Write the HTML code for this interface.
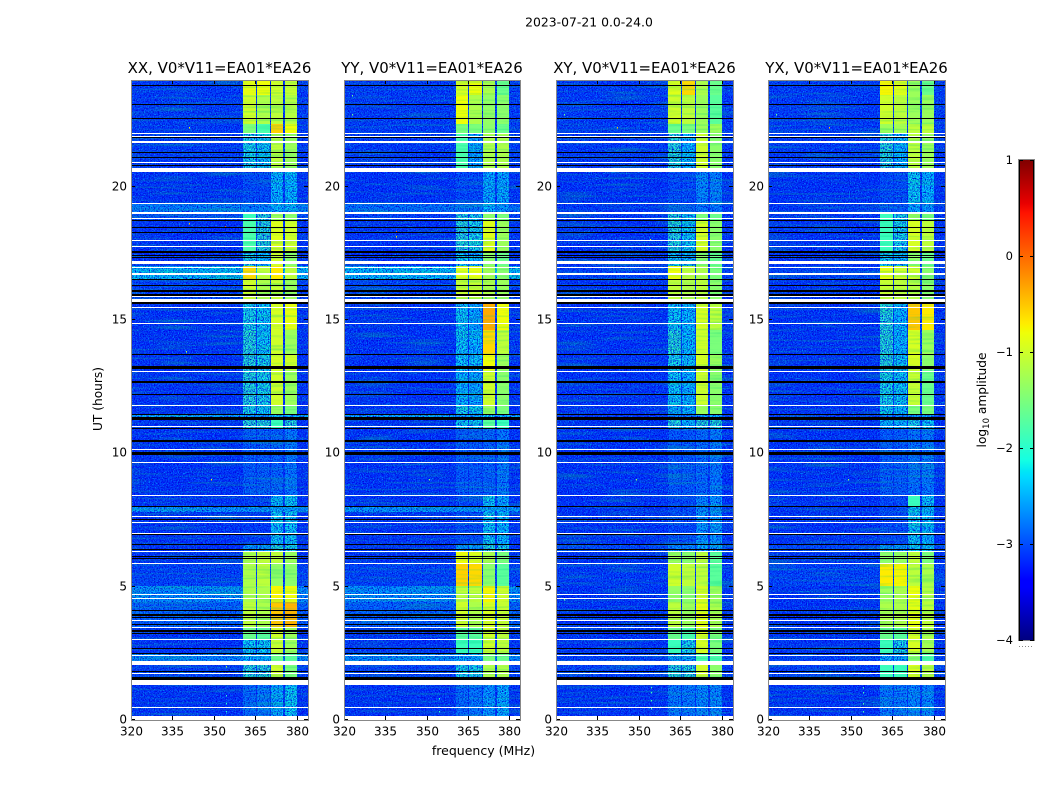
<!DOCTYPE html>
<html lang="en">
<head>
<meta charset="utf-8">
<title>2023-07-21 0.0-24.0</title>
<style>
html,body{margin:0;padding:0;background:#fff;width:1050px;height:800px;overflow:hidden}
svg{display:block}
text{font-family:"DejaVu Sans","Liberation Sans",sans-serif;fill:#000}
</style>
</head>
<body>
<svg id="chart" xmlns="http://www.w3.org/2000/svg" width="1050" height="800" viewBox="0 0 1050 800">
<defs>
<filter id="speckle-light" filterUnits="userSpaceOnUse" x="0" y="0" width="1050" height="800" color-interpolation-filters="sRGB">
<feTurbulence type="fractalNoise" baseFrequency="0.83" numOctaves="2" seed="3"/>
<feColorMatrix type="matrix" values="0 0 0 0 0  0 0 0 0 0.55  0 0 0 0 1  4 0 0 0 -1.9"/>
</filter>
<filter id="speckle-dark" filterUnits="userSpaceOnUse" x="0" y="0" width="1050" height="800" color-interpolation-filters="sRGB">
<feTurbulence type="fractalNoise" baseFrequency="0.79" numOctaves="2" seed="11"/>
<feColorMatrix type="matrix" values="0 0 0 0 0  0 0 0 0 0  0 0 0 0 0.85  0 3.4 0 0 -1.5"/>
</filter>
<filter id="streaks" filterUnits="userSpaceOnUse" x="0" y="0" width="1050" height="800" color-interpolation-filters="sRGB">
<feTurbulence type="fractalNoise" baseFrequency="0.02 0.45" numOctaves="1" seed="5"/>
<feColorMatrix type="matrix" values="0 0 0 0 0  0 0 0 0 0.8  0 0 0 0 0.5  2.0 0 0 0 -0.95"/>
</filter>
</defs>
</svg>
<script>
// ---- chart data ----
const panelNames = ['XX', 'YY', 'XY', 'YX'];
const panelTitles = ['XX, V0*V11=EA01*EA26', 'YY, V0*V11=EA01*EA26', 'XY, V0*V11=EA01*EA26', 'YX, V0*V11=EA01*EA26'];
const freqTicks = [320, 335, 350, 365, 380];
const timeTicks = [0, 5, 10, 15, 20];
const colorTicks = [1, 0, -1, -2, -3, -4];
const bandEdges = [[360.6, 365.1], [365.6, 370.2], [370.7, 374.9], [375.7, 379.9]];
// start hour of each time segment (segment ends at the next start; last ends at 24)
const segmentStarts = [0, 1.55, 2.16, 2.45, 3.0, 3.45, 4.4, 5.0, 5.8, 6.3, 6.55, 7.75, 7.95, 8.38, 10.9, 11.3, 11.45, 11.75, 13.1, 13.7, 14.6, 15.6, 16.5, 17.0, 17.5, 18.7, 19.0, 19.35, 20.65, 21.95, 22.3, 23.4];
// log10 amplitude per segment: background, band 1..4
const levelsXX = [
[-3.15,-2.8,-2.7,-2.4,-2.2],[-3.05,-2.0,-2.0,-1.0,-1.5],[-2.6,-2.3,-2.3,-1.6,-1.7],[-3.15,-2.2,-2.2,-1.05,-1.3],
[-3.15,-1.6,-1.7,-1.0,-1.3],[-2.85,-1.1,-1.2,-0.5,-0.4],[-2.55,-1.2,-1.2,-0.75,-0.8],[-3.05,-1.2,-1.1,-1.35,-1.4],
[-3.15,-1.2,-1.1,-1.1,-1.3],[-3.15,-2.5,-2.5,-2.0,-2.1],[-3.15,-3.1,-3.1,-2.2,-2.2],[-2.5,-2.5,-2.5,-2.4,-2.4],
[-3.15,-3.1,-3.1,-2.3,-2.2],[-3.15,-2.9,-2.9,-2.85,-2.7],[-3.15,-2.0,-2.0,-1.9,-2.0],[-2.4,-2.4,-2.4,-2.2,-2.3],
[-3.15,-2.1,-2.2,-1.3,-1.5],[-3.15,-2.0,-2.1,-1.0,-1.3],[-3.15,-2.0,-2.1,-0.95,-1.0],[-3.15,-2.0,-2.2,-1.0,-1.3],
[-3.15,-2.1,-2.2,-0.95,-0.85],[-3.05,-1.0,-1.2,-1.05,-1.3],[-2.25,-0.6,-1.1,-0.7,-1.1],[-3.15,-2.1,-2.3,-1.0,-1.4],
[-3.15,-1.8,-2.0,-0.9,-1.0],[-2.95,-1.9,-2.0,-1.3,-1.4],[-2.65,-2.65,-2.6,-2.3,-2.3],[-3.15,-3.0,-3.0,-2.3,-2.3],
[-3.1,-2.1,-2.2,-1.1,-1.3],[-3.1,-1.5,-1.8,-0.55,-0.8],[-3.1,-1.0,-1.2,-1.1,-1.15],[-3.1,-0.85,-0.8,-1.0,-1.05]];
const levelsYY = [
[-3.15,-2.8,-2.7,-2.5,-2.4],[-3.05,-2.1,-2.1,-1.2,-1.2],[-2.6,-2.4,-2.4,-1.5,-1.6],[-3.15,-1.9,-1.9,-1.0,-1.1],
[-3.15,-1.7,-1.7,-1.0,-1.1],[-2.85,-1.0,-1.2,-0.95,-1.05],[-2.55,-1.1,-1.1,-0.75,-1.0],[-3.05,-0.55,-0.6,-1.4,-1.7],
[-3.15,-0.8,-0.9,-1.2,-1.5],[-3.15,-2.5,-2.5,-2.0,-2.1],[-3.15,-3.0,-3.0,-2.2,-2.3],[-2.5,-2.5,-2.5,-2.4,-2.4],
[-3.15,-3.0,-3.0,-2.2,-2.4],[-3.15,-2.9,-2.9,-2.85,-2.7],[-3.15,-2.2,-2.2,-1.7,-1.9],[-2.4,-2.4,-2.4,-2.2,-2.3],
[-3.15,-2.1,-2.2,-1.3,-1.5],[-3.15,-2.3,-2.4,-1.0,-1.4],[-3.15,-2.2,-2.2,-0.8,-1.3],[-3.15,-2.2,-2.3,-0.6,-1.1],
[-3.15,-2.2,-2.4,-0.35,-0.8],[-3.05,-1.05,-1.05,-1.2,-1.3],[-2.25,-0.9,-0.85,-1.25,-1.4],[-3.15,-2.2,-2.3,-1.4,-1.6],
[-3.15,-2.0,-2.1,-0.9,-1.3],[-3.05,-2.0,-2.1,-1.4,-1.5],[-2.75,-2.7,-2.7,-2.3,-2.5],[-3.15,-3.0,-3.0,-2.4,-2.4],
[-3.1,-1.8,-2.4,-1.2,-1.2],[-3.1,-1.5,-1.5,-1.4,-1.6],[-3.1,-0.8,-1.2,-1.35,-1.4],[-3.1,-0.95,-0.8,-1.2,-1.6]];
const levelsXY = [
[-3.15,-2.7,-2.7,-2.6,-2.6],[-3.05,-2.0,-2.0,-1.0,-1.4],[-3.05,-2.5,-2.5,-1.8,-1.8],[-3.15,-1.9,-2.1,-0.95,-1.5],
[-3.15,-1.6,-1.8,-0.95,-1.5],[-3.15,-1.1,-1.3,-0.85,-1.2],[-3.15,-1.35,-1.4,-0.95,-1.3],[-3.1,-1.0,-1.1,-1.1,-1.7],
[-3.15,-1.3,-1.4,-1.1,-1.7],[-3.0,-2.6,-2.6,-2.3,-2.4],[-3.15,-3.0,-3.0,-2.5,-2.5],[-3.15,-3.0,-3.0,-2.6,-2.6],
[-3.15,-3.0,-3.0,-2.6,-2.5],[-3.15,-2.9,-2.9,-2.8,-2.7],[-3.15,-2.0,-2.3,-2.0,-2.0],[-3.05,-2.6,-2.6,-2.4,-2.4],
[-3.15,-2.4,-2.3,-1.3,-1.4],[-3.15,-2.2,-2.3,-1.0,-1.4],[-3.15,-2.1,-2.2,-0.95,-1.3],[-3.15,-2.0,-2.3,-1.0,-1.5],
[-3.15,-2.2,-2.3,-0.95,-1.1],[-3.15,-1.1,-1.2,-1.1,-1.4],[-3.05,-0.8,-1.1,-1.2,-1.5],[-3.15,-2.2,-2.3,-1.4,-1.6],
[-3.15,-2.0,-2.2,-0.95,-1.4],[-3.1,-2.0,-2.2,-1.5,-1.6],[-3.1,-2.9,-2.9,-2.7,-2.7],[-3.15,-3.0,-3.0,-2.6,-2.65],
[-3.1,-2.0,-2.3,-1.0,-1.4],[-3.1,-1.6,-1.5,-1.3,-1.3],[-3.1,-1.0,-1.1,-1.3,-1.7],[-3.1,-0.9,-0.6,-1.2,-1.6]];
const levelsYX = [
[-3.15,-2.7,-2.7,-2.6,-2.6],[-3.05,-1.9,-1.9,-0.9,-1.1],[-3.05,-2.4,-2.4,-1.4,-1.8],[-3.15,-1.9,-2.1,-0.95,-1.25],
[-3.15,-1.6,-1.7,-0.95,-1.2],[-3.15,-1.2,-1.2,-0.85,-1.1],[-3.15,-1.3,-1.2,-0.8,-1.15],[-3.05,-0.7,-0.75,-1.1,-1.2],
[-3.15,-1.4,-1.35,-1.1,-1.5],[-3.0,-2.5,-2.5,-2.2,-2.2],[-3.15,-3.0,-3.0,-2.2,-2.3],[-3.15,-3.0,-3.0,-2.2,-2.3],
[-3.15,-3.0,-3.0,-1.9,-2.2],[-3.15,-2.9,-2.9,-2.75,-2.7],[-3.15,-2.3,-2.3,-2.1,-2.2],[-3.05,-2.6,-2.6,-2.4,-2.4],
[-3.15,-2.2,-2.3,-1.5,-1.5],[-3.15,-2.1,-2.2,-1.05,-1.6],[-3.15,-2.0,-2.2,-0.95,-1.4],[-3.15,-2.0,-2.3,-0.95,-1.3],
[-3.15,-2.0,-2.3,-0.5,-0.7],[-3.15,-1.05,-1.1,-1.15,-1.4],[-3.05,-0.85,-1.0,-1.0,-1.4],[-3.15,-2.2,-2.3,-1.4,-1.6],
[-3.15,-1.9,-2.1,-0.95,-1.1],[-3.1,-1.9,-2.1,-1.3,-1.5],[-3.1,-2.9,-2.9,-2.4,-2.5],[-3.15,-3.0,-3.0,-2.2,-2.3],
[-3.1,-2.0,-2.3,-1.1,-1.3],[-3.1,-1.3,-1.25,-1.1,-1.1],[-3.1,-1.0,-1.1,-1.3,-1.3],[-3.1,-0.75,-0.9,-1.3,-1.6]];
const panelLevels = [levelsXX, levelsYY, levelsXY, levelsYX];
// flagged (missing) rows, hours
const whiteLines = [0.435,1.71,2.39,2.99,3.44,3.70,4.535,4.67,5.835,6.285,6.955,7.37,7.6,8.385,9.62,10.09,10.96,11.74,13.03,14.83,15.44,15.83,16.94,17.1,17.17,17.71,17.94,18.76,19.33,20.87,21.63,21.66,21.83,21.95];
const whiteBands = [[-0.05,0.11],[1.29,1.46],[2.02,2.16],[15.63,15.75],[16.64,16.73],[18.93,19.03],[20.5,20.65]];
// zero-amplitude rows, hours
const blackLines = [1.77,2.44,2.65,3.22,3.3,3.53,3.82,3.9,4.085,6.03,6.11,6.36,6.56,6.92,7.48,7.965,10.9,11.42,11.77,12.18,13.16,13.2,13.66,15.6,15.9,16.05,16.27,16.49,17.29,17.39,18.24,18.43,18.68,20.76,21.05,21.26,22.51,23.04,23.76];
const blackBands = [[1.46,1.56],[9.91,10.0],[10.4,10.48],[11.23,11.31],[12.6,12.68],[17.46,17.54],[21.77,21.83]];
// isolated interference points: frequency, hour, log10 amplitude
const pointsXX = [[354.5,0.3,-2],[354.5,0.6,-2],[354.5,0.9,-2],[354.5,2.0,-1.3],[340,13.8,-1.2],[354,19.0,-1],[354,18.5,0],[341,18.6,-0.4],[341,22.2,-0.8],[349,9.0,-0.8]];
const pointsYY = [[354.5,0.3,-2],[354.5,0.8,-2],[351,9.0,-1.6],[339,18.1,-0.6],[339,18.3,0],[323,22.7,-1.6],[323,23.4,-1.6]];
const pointsXY = [[354.5,0.4,-1.8],[354.5,0.7,-1.8],[354.5,1.0,-1.8],[354.5,1.2,-1.8],[342,22.2,-0.5],[354,18.0,-0.9],[349,9.0,-1.4],[323,4.5,-1.6],[323,22.7,-1.6]];
const pointsYX = [[354.5,0.3,-1.8],[354.5,0.6,-1.8],[354.5,1.0,-1.8],[354.5,1.2,-1.8],[342,22.2,-0.5],[354,18.0,-0.9],[349,9.0,-1.4],[323,22.7,-1.6]];
const panelPoints = [pointsXX, pointsYY, pointsXY, pointsYX];
const figureTitle = '2023-07-21 0.0-24.0';

// ---- layout and scales ----
const panelLeft = [131, 344, 556, 768];
const panelWidth = [177, 176, 177, 177];
const plotTop = 79, plotBottom = 719, frameTop = 80, frameBottom = 720;
const freqMin = 320, freqMax = 384, timeMax = 24;
const barX = 1019, barW = 15, barTop = 160, barBottom = 640, ampMin = -4, ampMax = 1;
const xOf = (f, p) => panelLeft[p] + (f - freqMin) / (freqMax - freqMin) * panelWidth[p];
const yOf = t => plotBottom - t / timeMax * (plotBottom - plotTop);
const ampY = a => barBottom - (a - ampMin) / (ampMax - ampMin) * (barBottom - barTop);

function lerp(stops, v) {
  if (v <= stops[0][0]) return stops[0][1];
  for (let i = 1; i < stops.length; i++) {
    if (v <= stops[i][0]) {
      const a = stops[i - 1], b = stops[i];
      return a[1] + (v - a[0]) / (b[0] - a[0]) * (b[1] - a[1]);
    }
  }
  return stops[stops.length - 1][1];
}
const redStops = [[0,0],[0.35,0],[0.66,1],[0.89,1],[1,0.5]];
const greenStops = [[0,0],[0.125,0],[0.375,1],[0.64,1],[0.91,0],[1,0]];
const blueStops = [[0,0.5],[0.11,1],[0.34,1],[0.65,0],[1,0]];
function jet(frac) {
  const c = [redStops, greenStops, blueStops].map(s => Math.round(255 * lerp(s, frac)));
  return 'rgb(' + c.join(',') + ')';
}
const ampColor = a => jet((a - ampMin) / (ampMax - ampMin));

const NS = 'http://www.w3.org/2000/svg';
const root = document.getElementById('chart');
function make(tag, attrs, parent) {
  const el = document.createElementNS(NS, tag);
  for (const k in attrs) el.setAttribute(k, attrs[k]);
  (parent || root).appendChild(el);
  return el;
}
function label(str, x, y, size, anchor, parent) {
  const el = make('text', {x: x, y: y, 'font-size': size, 'text-anchor': anchor}, parent);
  el.textContent = str;
  return el;
}
const minus = v => String(v).replace('-', '\u2212');

// ---- figure title ----
const figTitle = label(figureTitle, 589, 26.5, 12.4, 'middle');



// ---- panels ----
panelNames.forEach((name, p) => {
  const x0 = panelLeft[p];
  const plotWidth = panelWidth[p];
  const g = make('g', {});
  
  

  const title = label(panelTitles[p], x0 + plotWidth / 2, 73, 14.95, 'middle', g);
  
  

  const clipId = 'clip-' + name;
  const cp = make('clipPath', {id: clipId}, g);
  make('rect', {x: x0, y: frameTop, width: plotWidth, height: frameBottom - frameTop}, cp);
  const body = make('g', {'clip-path': 'url(#' + clipId + ')', 'shape-rendering': 'crispEdges'}, g);
  
  

  const levels = panelLevels[p];
  const drawCells = bright => {
    levels.forEach((row, s) => {
      const t0 = segmentStarts[s];
      const t1 = s + 1 < segmentStarts.length ? segmentStarts[s + 1] : timeMax;
      const yTop = Math.round(yOf(t1)), yBot = Math.round(yOf(t0));
      if (!bright) {
        const bg = make('rect', {x: x0, y: yTop, width: plotWidth, height: yBot - yTop, fill: ampColor(row[0])}, body);
        
        
      }
      bandEdges.forEach((edge, b) => {
        const v = row[b + 1];
        if ((v >= -1.9) !== bright) return;
        const xa = Math.round(xOf(edge[0], p)), xb = Math.round(xOf(edge[1], p));
        const cell = make('rect', {x: xa, y: yTop, width: xb - xa, height: yBot - yTop, fill: ampColor(v)}, body);
        
        
      });
    });
  };
  drawCells(false);
  make('rect', {x: x0, y: frameTop, width: plotWidth, height: frameBottom - frameTop, filter: 'url(#speckle-light)'}, body);
  make('rect', {x: x0, y: frameTop, width: plotWidth, height: frameBottom - frameTop, filter: 'url(#speckle-dark)'}, body);
  drawCells(true);
  const xs = Math.round(xOf(bandEdges[0][0], p)), xe = Math.round(xOf(bandEdges[3][1], p));
  make('rect', {x: xs, y: frameTop, width: xe - xs, height: frameBottom - frameTop, filter: 'url(#streaks)', opacity: 0.5}, body);

  panelPoints[p].forEach(pt => {
    const dot = make('rect', {x: Math.round(xOf(pt[0], p)), y: Math.round(yOf(pt[1])), width: 1, height: 1.5, fill: ampColor(pt[2])}, body);
    
    
  });

  const flagRow = (t0, t1, color) => {
    const yTop = Math.round(yOf(t1)), yBot = Math.max(Math.round(yOf(t0)), yTop + 1);
    const flag = make('rect', {x: x0, y: yTop, width: plotWidth, height: yBot - yTop, fill: color}, body);
    
    
  };
  blackBands.forEach(r => flagRow(r[0], r[1], '#000'));
  blackLines.forEach(t => flagRow(t - 0.02, t + 0.02, '#000'));
  whiteBands.forEach(r => flagRow(r[0], r[1], '#fff'));
  whiteLines.forEach(t => flagRow(t - 0.02, t + 0.02, '#fff'));

  // ticks and labels
  freqTicks.forEach(f => {
    const xt = Math.round(xOf(f, p)) + 0.5;
    make('path', {d: 'M' + xt + ' ' + frameBottom + 'v-4M' + xt + ' ' + frameTop + 'v4', stroke: '#000', 'stroke-width': 1, fill: 'none'}, g);
    const tl = label(String(f), xt, 735.5, 12, 'middle', g);
    
    
  });
  timeTicks.forEach(t => {
    const yt = Math.round(yOf(t)) + 0.5;
    make('path', {d: 'M' + x0 + ' ' + yt + 'h4M' + (x0 + plotWidth) + ' ' + yt + 'h-4', stroke: '#000', 'stroke-width': 1, fill: 'none'}, g);
    const tl = label(String(t), x0 - 4, yt + 4, 12, 'end', g);
    
    
  });
  const frame = make('rect', {x: x0 + 0.5, y: frameTop + 0.5, width: plotWidth, height: frameBottom - frameTop, fill: 'none', stroke: '#888', 'stroke-width': 1}, g);
  
  
});

// ---- axis titles ----
const xTitle = label('frequency (MHz)', 483.5, 755, 12.5, 'middle');


const yTitle = label('UT (hours)', 0, 0, 12.2, 'middle');
yTitle.setAttribute('transform', 'translate(102,399) rotate(-90)');



// ---- colorbar ----
const grad = make('linearGradient', {id: 'jet-gradient', x1: 0, y1: 1, x2: 0, y2: 0}, root.querySelector('defs'));
[0, 0.11, 0.125, 0.34, 0.35, 0.375, 0.64, 0.65, 0.66, 0.89, 0.91, 1].forEach(o => {
  make('stop', {offset: o, 'stop-color': jet(o)}, grad);
});
const cbar = make('g', {});


const ramp = make('rect', {x: barX, y: barTop, width: barW, height: barBottom - barTop, fill: 'url(#jet-gradient)'}, cbar);


const barEdge = make('rect', {x: barX - 0.5, y: barTop - 0.5, width: barW + 1, height: barBottom - barTop + 1, fill: 'none', stroke: '#888'}, cbar);


make('path', {d: 'M' + (barX + 0.5) + ' ' + barTop + 'V' + barBottom + 'M' + (barX + barW - 0.5) + ' ' + barTop + 'V' + barBottom, stroke: '#000', 'stroke-width': 1, fill: 'none'}, cbar);
colorTicks.forEach(a => {
  const yt = Math.round(ampY(a)) + 0.5;
  make('path', {d: 'M' + barX + ' ' + yt + 'h4M' + (barX + barW) + ' ' + yt + 'h-4', stroke: '#000', fill: 'none'}, cbar);
  const tl = label(minus(a), barX - 6, yt + 3.5, 11.5, 'end', cbar);
  
  
});
make('path', {d: 'M' + barX + ' 646.5H' + (barX + barW), stroke: '#888', 'stroke-dasharray': '1 2', fill: 'none'}, cbar);
const barTitle = make('text', {'font-size': 12.2, 'text-anchor': 'middle', transform: 'translate(986,400) rotate(-90)'}, cbar);


barTitle.appendChild(document.createTextNode('log'));
const sub = make('tspan', {'font-size': 8.5, dy: 3}, barTitle);
sub.textContent = '10';
const rest = make('tspan', {dy: -3}, barTitle);
rest.textContent = ' amplitude';
</script>
</body>
</html>
